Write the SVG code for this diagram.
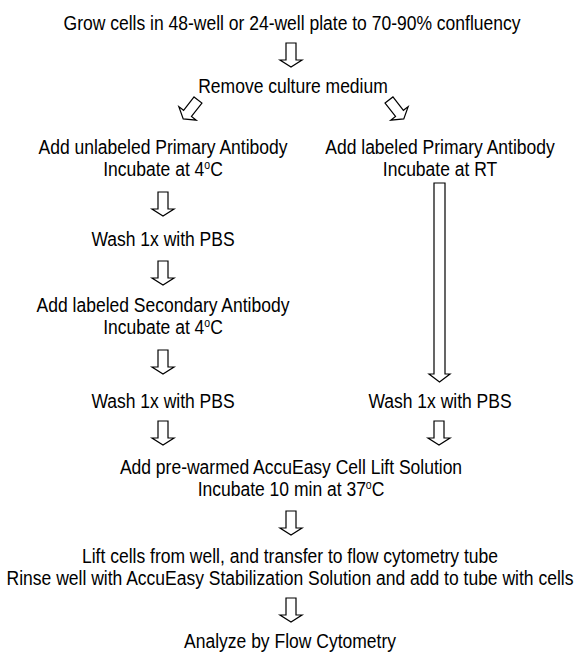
<svg xmlns="http://www.w3.org/2000/svg" width="579" height="658" viewBox="0 0 579 658">
<defs>
<style>
text{font-family:"Liberation Sans",Arial,sans-serif;font-size:20px;fill:#000;text-anchor:middle}
.sup{font-size:12px}
.arr{fill:#fff;stroke:#000;stroke-width:1.2}
</style>
<path id="da" d="M-5,0 H5 V17 H11 L0,24 L-11,17 H-5 Z"/>
</defs>
<rect width="579" height="658" fill="#fff"/>
<g id="n1" transform="translate(292,0) scale(0.875,1)"><text x="0" y="30">Grow cells in 48-well or 24-well plate to 70-90% confluency</text></g>
<g id="n2" transform="translate(293,0) scale(0.875,1)"><text x="0" y="93">Remove culture medium</text></g>
<g id="n3" transform="translate(163,0) scale(0.875,1)"><text x="0" y="154">Add unlabeled Primary Antibody</text><text x="0" y="176">Incubate at 4<tspan class="sup" dy="-7">o</tspan><tspan dy="7">C</tspan></text></g>
<g id="n4" transform="translate(440,0) scale(0.875,1)"><text x="0" y="154">Add labeled Primary Antibody</text><text x="0" y="176">Incubate at RT</text></g>
<g id="n5" transform="translate(163,0) scale(0.875,1)"><text x="0" y="246">Wash 1x with PBS</text></g>
<g id="n6" transform="translate(163,0) scale(0.875,1)"><text x="0" y="312">Add labeled Secondary Antibody</text><text x="0" y="334">Incubate at 4<tspan class="sup" dy="-7">o</tspan><tspan dy="7">C</tspan></text></g>
<g id="n7" transform="translate(163,0) scale(0.875,1)"><text x="0" y="408">Wash 1x with PBS</text></g>
<g id="n8" transform="translate(440,0) scale(0.875,1)"><text x="0" y="408">Wash 1x with PBS</text></g>
<g id="n9" transform="translate(291,0) scale(0.875,1)"><text x="0" y="474">Add pre-warmed AccuEasy Cell Lift Solution</text><text x="0" y="496">Incubate 10 min at 37<tspan class="sup" dy="-7">o</tspan><tspan dy="7">C</tspan></text></g>
<g id="n10" transform="translate(290,0) scale(0.875,1)"><text x="0" y="563">Lift cells from well, and transfer to flow cytometry tube</text><text x="0" y="585">Rinse well with AccuEasy Stabilization Solution and add to tube with cells</text></g>
<g id="n11" transform="translate(290,0) scale(0.875,1)"><text x="0" y="648">Analyze by Flow Cytometry</text></g>
<g id="connectors" class="arr">
<use href="#da" x="291" y="43"/>
<use href="#da" transform="translate(198,100) rotate(38)"/>
<use href="#da" transform="translate(389,100) rotate(-38)"/>
<use href="#da" x="163" y="192"/>
<use href="#da" x="163" y="261"/>
<use href="#da" x="163" y="350"/>
<path d="M434,183 H445 V374 H450 L439.5,382 L429,374 H434 Z"/>
<use href="#da" x="163" y="421"/>
<use href="#da" x="439" y="421"/>
<use href="#da" x="291" y="511"/>
<use href="#da" x="291" y="598"/>
</g>
</svg>
